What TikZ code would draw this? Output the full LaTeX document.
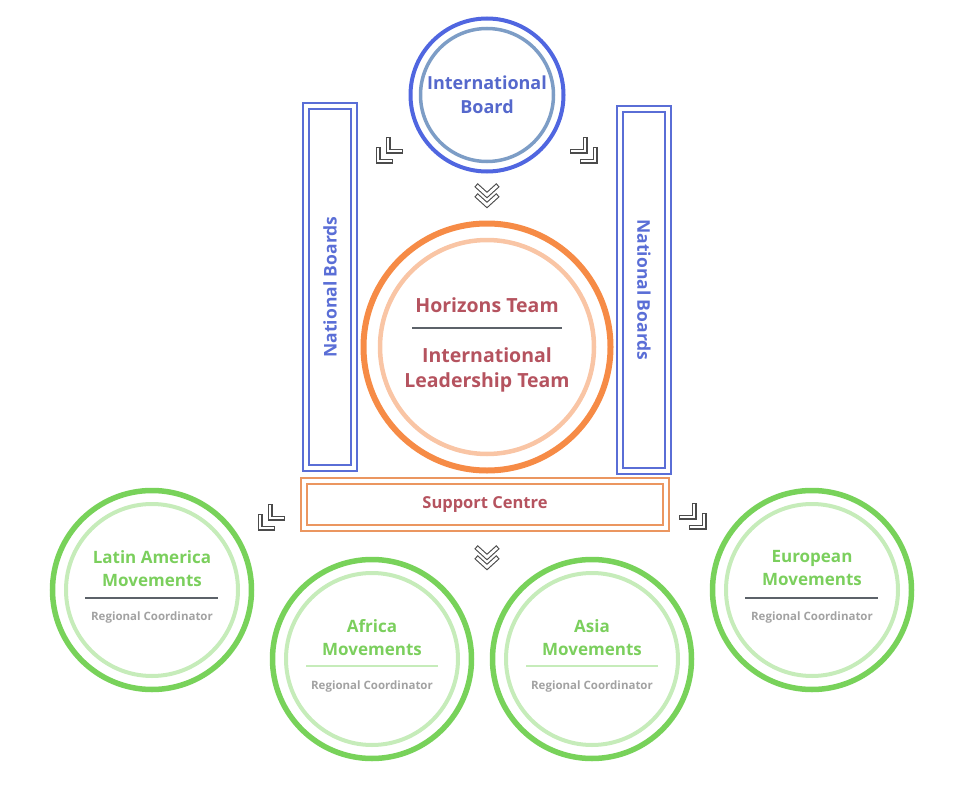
\documentclass[tikz,border=0pt]{standalone}
\usepackage{fontspec}
\setmainfont{Open Sans}
\usetikzlibrary{positioning}
\definecolor{ibblue}{HTML}{5066E0}
\definecolor{ibsteel}{HTML}{7D9DC6}
\definecolor{ibtext}{HTML}{5568CC}
\definecolor{nbblue}{HTML}{5A6ED6}
\definecolor{iltorange}{HTML}{F68B46}
\definecolor{iltlight}{HTML}{F9C5A5}
\definecolor{scorange}{HTML}{EB9660}
\definecolor{iltred}{HTML}{B5535F}
\definecolor{mvgreen}{HTML}{78D25A}
\definecolor{mvlight}{HTML}{C6ECBA}
\definecolor{mvtext}{HTML}{7BCF5D}
\definecolor{subgray}{HTML}{A2A2A2}
\definecolor{rulegray}{HTML}{5C6269}
\definecolor{chevgray}{HTML}{4B4B4B}
\tikzset{
  ring/.style={circle, draw, inner sep=0pt, fill=none},
  ibring/.style={ring, draw=ibblue, line width=4pt, minimum size=153pt},
  ibinner/.style={draw=ibsteel, line width=3.5pt},
  iltring/.style={ring, draw=iltorange, line width=6pt, minimum size=247pt},
  iltinner/.style={draw=iltlight, line width=4.5pt},
  mvring/.style={ring, draw=mvgreen, line width=5.5pt, minimum size=199pt},
  mvinner/.style={draw=mvlight, line width=4pt},
  nbbar/.style={draw=nbblue, line width=1.8pt, double=white, double distance=4pt,
    minimum width=362pt, minimum height=48pt, inner sep=0pt, text=nbblue,
    font=\bfseries\fontsize{17.5}{20}\selectfont},
  scbox/.style={draw=scorange, line width=1.8pt, double=white, double distance=4pt,
    minimum width=362pt, minimum height=47pt, inner sep=0pt, text=iltred,
    font=\bfseries\fontsize{16.5}{20}\selectfont},
  ibtxt/.style={align=center, text=ibtext, font=\bfseries\fontsize{18}{24}\selectfont},
  ilttxt/.style={align=center, text=iltred, font=\bfseries\fontsize{19.5}{25}\selectfont},
  mvtitle/.style={align=center, text=mvtext, font=\bfseries\fontsize{17}{23}\selectfont},
  mvsub/.style={text=subgray, font=\bfseries\fontsize{11.5}{13}\selectfont},
  darkrule/.style={draw=rulegray, line width=1.3pt},
  greenrule/.style={draw=mvlight, line width=2pt},
  chevo/.style={draw=chevgray, line width=5pt, miter limit=10},
  cheva/.style={draw=white, line width=2.8pt, miter limit=10, shorten <=1.1pt, shorten >=1.1pt},
  downchev/.pic={
    \foreach \dy in {0,10} {
      \draw[chevo] (-11,\dy-10) -- (0,\dy) -- (11,\dy-10);
      \draw[cheva] (-11,\dy-10) -- (0,\dy) -- (11,\dy-10);
    }
  },
  cornerchev/.pic={
    \foreach \d in {0,10} {
      \draw[chevo] (-12+\d,-3-\d) -- (-12+\d,11-\d) -- (3+\d,11-\d);
      \draw[cheva] (-12+\d,-3-\d) -- (-12+\d,11-\d) -- (3+\d,11-\d);
    }
  }
}

\begin{document}
\begin{tikzpicture}[x=1pt, y=-1pt]
\useasboundingbox (0,0) rectangle (967,800);
% international board
\node[ibring] (ib) at (487,95) {};
\draw[ibinner] (ib.center) circle[radius=66.5];
\node[ibtxt] (ibt) at (487,95) {International\\Board};
% national boards
\node[nbbar, rotate=90] (nbl) at (330,287) {National Boards};
\node[nbbar, rotate=-90] (nbr) at (644,290) {National Boards};
% horizons / leadership
\node[iltring] (ilt) at (487,347) {};
\draw[iltinner] (ilt.center) circle[radius=107];
\node[ilttxt] (hzt) at (487,305) {Horizons Team};
\draw[darkrule] (412,328) -- (562,328);
\node[ilttxt] (iltt) at (487,370) {International\\Leadership Team};
% support centre
\node[scbox] (sc) at (485,504.5) {Support Centre};
% regional movements
\node[mvring] (lam) at (152,590) {};
\node[mvring] (afm) at (372,659) {};
\node[mvring] (asm) at (592,659) {};
\node[mvring] (eum) at (812,590) {};
\draw[mvinner] (lam.center) circle[radius=86];
\draw[mvinner] (afm.center) circle[radius=86];
\draw[mvinner] (asm.center) circle[radius=86];
\draw[mvinner] (eum.center) circle[radius=86];
\node[mvtitle] (lamt) at (152,568.5) {Latin America\\Movements};
\node[mvtitle] (afmt) at (372,637.5) {Africa\\Movements};
\node[mvtitle] (asmt) at (592,637.5) {Asia\\Movements};
\node[mvtitle] (eumt) at (812,568.5) {European\\Movements};
\draw[darkrule] (85,598) -- (218,598);
\draw[greenrule] (306,666) -- (438,666);
\draw[greenrule] (526,666) -- (658,666);
\draw[darkrule] (745,598) -- (878,598);
\node[mvsub] (lams) at (152,618) {Regional Coordinator};
\node[mvsub] (afms) at (372,687) {Regional Coordinator};
\node[mvsub] (asms) at (592,687) {Regional Coordinator};
\node[mvsub] (eums) at (812,618) {Regional Coordinator};
% flow marks
\pic at (487,195) {downchev};
\pic at (487,557) {downchev};
\pic at (390,150) {cornerchev};
\pic[xscale=-1] at (583,150) {cornerchev};
\pic at (272,517) {cornerchev};
\pic[xscale=-1] at (692,516) {cornerchev};
\end{tikzpicture}
\end{document}
